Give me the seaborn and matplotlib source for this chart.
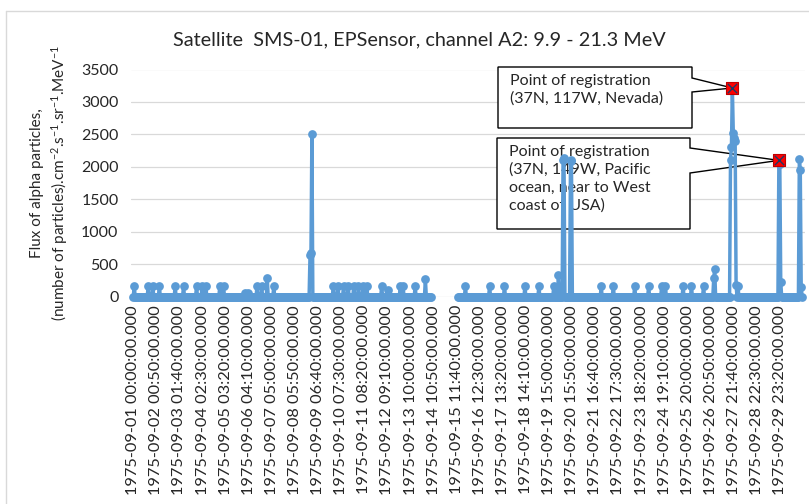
import pandas as pd
import seaborn as sns
import matplotlib
matplotlib.use("Agg")
import matplotlib.pyplot as plt
import matplotlib.dates as mdates
from matplotlib.patches import Polygon
from matplotlib.lines import Line2D

# --- data --------------------------------------------------------------------
SERIES_START = "1975-09-01 00:00"
GAP_START = "1975-09-14 08:00"   # last reading before the data gap
GAP_END = "1975-09-15 13:00"     # first reading after the data gap
SERIES_END = "1975-09-30 23:00"
# baseline readings are ~0; these are the non-zero readings
EVENT_TIMES = [
    "1975-09-01 01:00", "1975-09-01 16:00", "1975-09-01 21:00", "1975-09-02 04:00",
    "1975-09-02 21:00", "1975-09-03 06:00", "1975-09-03 20:00", "1975-09-04 02:00",
    "1975-09-04 06:00", "1975-09-04 21:00", "1975-09-05 01:00", "1975-09-06 00:00",
    "1975-09-06 03:00", "1975-09-06 13:00", "1975-09-06 18:00", "1975-09-07 00:00",
    "1975-09-07 07:00", "1975-09-08 22:00", "1975-09-08 23:00", "1975-09-09 00:00",
    "1975-09-09 23:00", "1975-09-10 04:00", "1975-09-10 10:00", "1975-09-10 15:00",
    "1975-09-10 21:00", "1975-09-11 02:00", "1975-09-11 07:00", "1975-09-11 11:00",
    "1975-09-12 03:00", "1975-09-12 10:00", "1975-09-12 23:00", "1975-09-13 02:00",
    "1975-09-13 15:00", "1975-09-14 02:00",
    "1975-09-15 21:00", "1975-09-16 23:00", "1975-09-17 15:00", "1975-09-18 13:00",
    "1975-09-19 04:00", "1975-09-19 20:00", "1975-09-20 01:00", "1975-09-20 06:00",
    "1975-09-20 07:00", "1975-09-20 14:00", "1975-09-20 15:00", "1975-09-21 23:00",
    "1975-09-22 12:00", "1975-09-23 11:00",
    "1975-09-24 02:00", "1975-09-24 16:00", "1975-09-24 20:00", "1975-09-25 15:00",
    "1975-09-26 00:00", "1975-09-26 13:00", "1975-09-27 00:00", "1975-09-27 01:00",
    "1975-09-27 18:00", "1975-09-27 19:00", "1975-09-27 20:00", "1975-09-27 21:00",
    "1975-09-27 22:00", "1975-09-27 23:00", "1975-09-28 00:00", "1975-09-28 02:00",
    "1975-09-29 22:00", "1975-09-29 23:00", "1975-09-30 00:00", "1975-09-30 20:00",
    "1975-09-30 21:00", "1975-09-30 22:00",
]
EVENT_FLUX = [
    170, 170, 170, 170,
    170, 170, 170, 170,
    170, 170, 170, 50,
    50, 170, 170, 290,
    160, 650, 675, 2500,
    170, 170, 170, 170,
    170, 170, 170, 170,
    170, 110, 170, 170,
    170, 270,
    170, 170, 170, 170,
    170, 170, 330, 2100,
    2135, 2090, 2110, 170,
    170, 170,
    170, 170, 170, 170,
    170, 170, 290, 420,
    2110, 2300, 3215, 2520,
    2450, 2400, 180, 170,
    2100, 2050, 230, 2125,
    1955, 150,
]
REG_TIMES = ["1975-09-27 20:00", "1975-09-29 22:00"]
REG_FLUX = [3215, 2100]
REG_TEXTS = [
    "Point of registration\n(37N, 117W, Nevada)",
    "Point of registration\n(37N, 149W, Pacific\nocean, near to West\ncoast of USA)",
]
TICK_LABELS = [
    "1975-09-01 00:00:00.000", "1975-09-02 00:50:00.000", "1975-09-03 01:40:00.000",
    "1975-09-04 02:30:00.000", "1975-09-05 03:20:00.000", "1975-09-06 04:10:00.000",
    "1975-09-07 05:00:00.000", "1975-09-08 05:50:00.000", "1975-09-09 06:40:00.000",
    "1975-09-10 07:30:00.000", "1975-09-11 08:20:00.000", "1975-09-12 09:10:00.000",
    "1975-09-13 10:00:00.000", "1975-09-14 10:50:00.000", "1975-09-15 11:40:00.000",
    "1975-09-16 12:30:00.000", "1975-09-17 13:20:00.000", "1975-09-18 14:10:00.000",
    "1975-09-19 15:00:00.000", "1975-09-20 15:50:00.000", "1975-09-21 16:40:00.000",
    "1975-09-22 17:30:00.000", "1975-09-23 18:20:00.000", "1975-09-24 19:10:00.000",
    "1975-09-25 20:00:00.000", "1975-09-26 20:50:00.000", "1975-09-27 21:40:00.000",
    "1975-09-28 22:30:00.000", "1975-09-29 23:20:00.000",
]
TITLE = "Satellite  SMS-01, EPSensor, channel A2: 9.9 - 21.3 MeV"
YLABEL = ("Flux of alpha particles,\n"
          "(number of particles).cm$^{-2}$.s$^{-1}$.sr$^{-1}$.MeV$^{-1}$")

BLUE = "#5B9BD5"
GRID = "#D9D9D9"
TEXT = "#262626"
W, H = 809, 504

sns.set_style("white")
plt.rcParams["font.family"] = ["Lato", "DejaVu Sans"]
plt.rcParams["mathtext.default"] = "regular"

# --- build the series ---------------------------------------------------------
times = pd.date_range(SERIES_START, SERIES_END, freq="h")
df = pd.DataFrame({"time": times, "flux": 0.0}).set_index("time")
events = pd.Series(EVENT_FLUX, index=pd.to_datetime(EVENT_TIMES), dtype=float)
df.loc[events.index, "flux"] = events.values
df = df.reset_index()
df = df[(df["time"] <= GAP_START) | (df["time"] >= GAP_END)].copy()
df["segment"] = (df["time"] >= GAP_END).astype(int)


def px(x, y):
    return x / W, 1 - y / H


fig = plt.figure(figsize=(W / 100, H / 100), dpi=100)
ax = fig.add_axes([131 / W, (H - 296.7) / H, (805 - 131) / W, (296.7 - 69.5) / H])

ax.yaxis.grid(True, color=GRID, lw=0.9, zorder=0)
ax.set_axisbelow(True)

sns.lineplot(data=df, x="time", y="flux", units="segment", estimator=None,
             color=BLUE, linewidth=2.5, marker="o", markersize=6.3,
             markeredgewidth=0, ax=ax, zorder=3)
for ln in ax.lines:
    ln.set_clip_on(False)

reg_t = pd.to_datetime(REG_TIMES)
ax.scatter(reg_t, REG_FLUX, marker="s", s=70, color="#FF0000",
           edgecolors="#C00000", linewidths=0.8, zorder=7, clip_on=False)
ax.scatter(reg_t, REG_FLUX, marker="x", s=45, color="#1F3864",
           linewidths=1.0, zorder=8, clip_on=False)

ax.set_ylim(0, 3500)
ax.set_yticks(range(0, 3501, 500))
ax.set_xlim(pd.Timestamp("1975-08-31 21:32"), pd.Timestamp("1975-10-01 02:05"))
ax.set_xticks(pd.to_datetime(TICK_LABELS))
ax.set_xticklabels(TICK_LABELS, rotation=90, fontsize=11.8, color=TEXT)
ax.tick_params(axis="x", length=0, pad=6)
ax.tick_params(axis="y", length=0, pad=9, labelsize=11.5, labelcolor=TEXT)
ax.set_xlabel("")
ax.set_ylabel(YLABEL, fontsize=11, color=TEXT, linespacing=1.3)
ax.yaxis.set_label_coords((70 - 131) / (805 - 131), (296.7 - 183) / (296.7 - 69.5))
sns.despine(ax=ax, left=True, bottom=True)

fig.text(*px(419, 40), TITLE, ha="center", va="center", fontsize=14.3, color=TEXT)

# callout boxes pointing at the registration points
boxes = [(498, 692, 67, 128, 78, 92), (497, 690, 138, 229, 148, 173)]
inv = fig.transFigure.inverted()
for (l, r, t, b, w1, w2), tt, fv, txt in zip(boxes, reg_t, REG_FLUX, REG_TEXTS):
    tip = inv.transform(ax.transData.transform((mdates.date2num(tt), fv)))
    verts = [px(l, t), px(r, t), px(r, w1), tuple(tip), px(r, w2), px(r, b), px(l, b)]
    poly = Polygon(verts, closed=True, transform=fig.transFigure, facecolor="white",
                   edgecolor="black", lw=1.0, zorder=1.5, clip_on=False)
    ax.add_patch(poly)
    ax.text(*px(l + 12, t + 7), txt, transform=fig.transFigure, ha="left", va="top",
            fontsize=11.5, color=TEXT, linespacing=1.32, zorder=1.6)

# chart area border
fig.add_artist(Line2D([6 / W, 1], [1 - 11 / H] * 2, color=GRID, lw=1, transform=fig.transFigure))
fig.add_artist(Line2D([6 / W] * 2, [0, 1 - 11 / H], color=GRID, lw=1, transform=fig.transFigure))

fig.savefig("out.png", dpi=100)
